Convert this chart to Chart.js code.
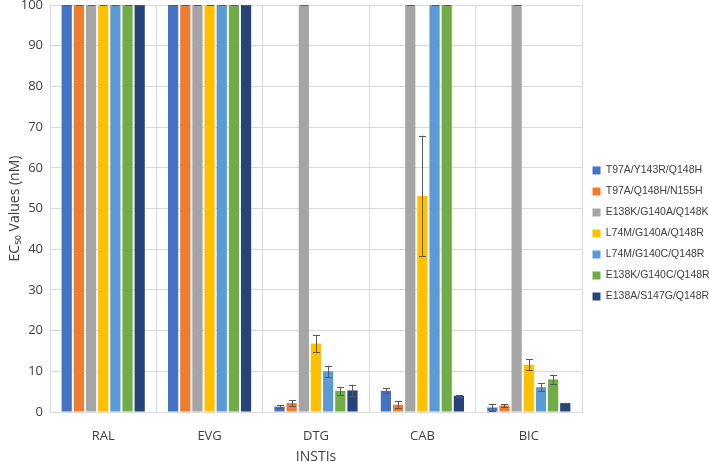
<!DOCTYPE html>
<html lang="en">
<head>
    <meta charset="UTF-8">
    <title>EC50 Values by INSTI</title>
    <style>
        body {
            margin: 0;
            padding: 0;
            background-color: #ffffff;
        }

        .chart-box {
            width: 709px;
            height: 462px;
        }
    </style>
</head>
<body>
    <div class="chart-box">
        <canvas id="ecChart"></canvas>
    </div>

    <script src="https://cdn.jsdelivr.net/npm/chart.js"></script>
    <script>
        // data (values above 100 nM are clipped at 100)
        const drugs = ['RAL', 'EVG', 'DTG', 'CAB', 'BIC'];
        const mutants = [
            'T97A/Y143R/Q148H',
            'T97A/Q148H/N155H',
            'E138K/G140A/Q148K',
            'L74M/G140A/Q148R',
            'L74M/G140C/Q148R',
            'E138K/G140C/Q148R',
            'E138A/S147G/Q148R'
        ];
        const yTicks = [0, 10, 20, 30, 40, 50, 60, 70, 80, 90, 100];

        const t97aY143r = [100, 100, 1.3, 5.2, 1.1];
        const t97aN155h = [100, 100, 2.2, 1.8, 1.6];
        const e138kG140a = [100, 100, 100, 100, 100];
        const l74mG140a = [100, 100, 16.8, 53.1, 11.6];
        const l74mG140c = [100, 100, 10.0, 100, 6.1];
        const e138kG140c = [100, 100, 5.2, 100, 8.0];
        const e138aS147g = [100, 100, 5.3, 4.0, 2.2];

        // error bar half widths
        const errT97aY143r = [0, 0, 0.3, 0.6, 0.8];
        const errT97aN155h = [0, 0, 0.7, 0.8, 0.4];
        const errE138kG140a = [0, 0, 0, 0, 0];
        const errL74mG140a = [0, 0, 2.1, 14.8, 1.3];
        const errL74mG140c = [0, 0, 1.4, 0, 1.0];
        const errE138kG140c = [0, 0, 1.0, 0, 1.1];
        const errE138aS147g = [0, 0, 1.4, 0.2, 0.1];

        const colors = ['#4472C4', '#ED7D31', '#A5A5A5', '#FFC000', '#5B9BD5', '#70AD47', '#264478'];
        const seriesValues = [t97aY143r, t97aN155h, e138kG140a, l74mG140a, l74mG140c, e138kG140c, e138aS147g];
        const seriesErrors = [errT97aY143r, errT97aN155h, errE138kG140a, errL74mG140a, errL74mG140c, errE138kG140c, errE138aS147g];

        // simple error bar drawing, Chart.js has none built in
        const errorBars = {
            id: 'errorBars',
            afterDatasetsDraw(chart) {
                const ctx = chart.ctx;
                const yScale = chart.scales.y;
                ctx.save();
                ctx.strokeStyle = '#595959';
                ctx.lineWidth = 1;
                chart.data.datasets.forEach((ds, i) => {
                    const meta = chart.getDatasetMeta(i);
                    meta.data.forEach((bar, j) => {
                        const v = ds.data[j];
                        const e = seriesErrors[i][j];
                        if (e === 0 && v < 100) return;
                        const top = yScale.getPixelForValue(Math.min(v + e, 100));
                        const bot = yScale.getPixelForValue(v - e);
                        const x = Math.round(bar.x) + 0.5;
                        ctx.beginPath();
                        ctx.moveTo(x, top);
                        ctx.lineTo(x, bot);
                        ctx.moveTo(x - 3.5, Math.round(top) + 0.5);
                        ctx.lineTo(x + 3.5, Math.round(top) + 0.5);
                        ctx.moveTo(x - 3.5, Math.round(bot) + 0.5);
                        ctx.lineTo(x + 3.5, Math.round(bot) + 0.5);
                        ctx.stroke();
                    });
                });
                ctx.restore();
            }
        };

        const ctx = document.getElementById('ecChart').getContext('2d');
        new Chart(ctx, {
            type: 'bar',
            data: {
                labels: drugs,
                datasets: mutants.map((name, i) => ({
                    label: name,
                    data: seriesValues[i],
                    backgroundColor: colors[i],
                    barPercentage: 0.84,
                    categoryPercentage: 0.8
                }))
            },
            options: {
                responsive: true,
                maintainAspectRatio: false,
                animation: false,
                layout: {
                    padding: { top: 5, right: 0, left: 0, bottom: 0 }
                },
                plugins: {
                    legend: {
                        position: 'right',
                        maxWidth: 127,
                        labels: {
                            boxWidth: 8,
                            boxHeight: 8,
                            padding: 10.5,
                            color: '#404040',
                            font: { family: 'Liberation Sans', size: 10.5 }
                        }
                    },
                    tooltip: { enabled: false }
                },
                scales: {
                    x: {
                        afterFit(axis) {
                            axis.height = 50;
                        },
                        grid: { color: '#d9d9d9', drawTicks: false },
                        border: { color: '#d9d9d9' },
                        ticks: {
                            color: '#404040',
                            padding: 16,
                            font: { family: 'Open Sans', size: 13 }
                        },
                        title: {
                            display: true,
                            text: 'INSTIs',
                            color: '#404040',
                            padding: { top: 0, bottom: -2 },
                            font: { family: 'Open Sans', size: 14, lineHeight: 1 }
                        }
                    },
                    y: {
                        min: 0,
                        max: 100,
                        afterBuildTicks(axis) {
                            axis.ticks = yTicks.map(v => ({ value: v }));
                        },
                        afterFit(axis) {
                            axis.paddingTop = 0;
                            axis.width = 50;
                        },
                        grid: { color: '#d9d9d9', drawTicks: false },
                        border: { color: '#d9d9d9' },
                        ticks: {
                            color: '#404040',
                            padding: 7,
                            font: { family: 'Open Sans', size: 13 }
                        },
                        title: {
                            display: true,
                            text: 'EC₅₀ Values (nM)',
                            color: '#404040',
                            padding: { top: 7, bottom: 0 },
                            font: { family: 'Open Sans', size: 14 }
                        }
                    }
                }
            },
            plugins: [errorBars]
        });
    </script>
</body>
</html>
